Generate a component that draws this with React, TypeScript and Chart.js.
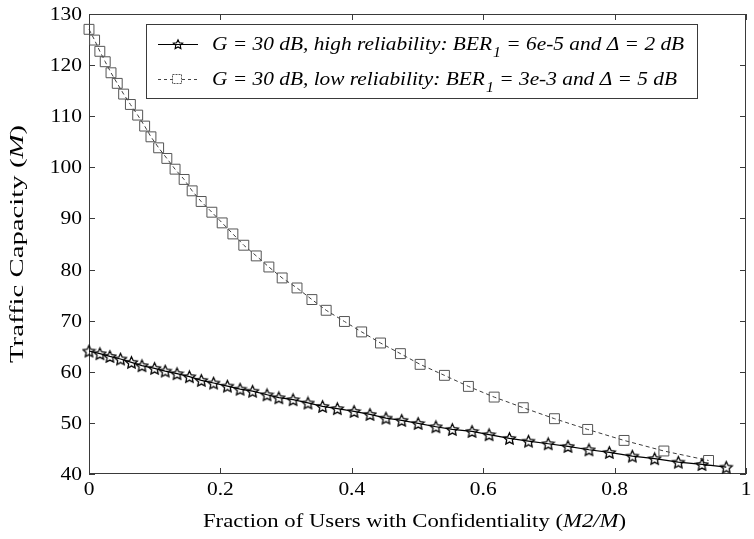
import React, { useEffect, useRef } from "react";
import { Chart, registerables } from "chart.js";

Chart.register(...registerables);

// ---- data ----
const highX = [
  0, 0.0166, 0.0318, 0.048, 0.0646, 0.0806, 0.0998, 0.116, 0.134, 0.1528,
  0.171, 0.1896, 0.2107, 0.23, 0.249, 0.271, 0.289, 0.3106, 0.3333, 0.3555,
  0.378, 0.4035, 0.4277, 0.452, 0.476, 0.501, 0.528, 0.553, 0.583, 0.609,
  0.64, 0.669, 0.699, 0.729, 0.761, 0.792, 0.827, 0.861, 0.897, 0.933, 0.97,
];
const highY = [
  64.06, 63.55, 63.0, 62.5, 61.85, 61.2, 60.67, 60.14, 59.63, 59.04,
  58.32, 57.8, 57.2, 56.6, 56.2, 55.5, 54.93, 54.54, 53.9, 53.23,
  52.8, 52.25, 51.66, 50.94, 50.5, 49.9, 49.25, 48.72, 48.33, 47.7,
  46.96, 46.43, 45.92, 45.4, 44.74, 44.22, 43.5, 43.0, 42.32, 41.87, 41.34,
];
const lowX = [
  0, 0.0085, 0.0165, 0.0247, 0.0335, 0.043, 0.0527, 0.063, 0.0741, 0.0847,
  0.0943, 0.106, 0.1185, 0.131, 0.1448, 0.157, 0.1707, 0.187, 0.2027, 0.219,
  0.2356, 0.2546, 0.2738, 0.294, 0.3166, 0.3393, 0.361, 0.3888, 0.415, 0.4437,
  0.474, 0.504, 0.541, 0.5775, 0.6167, 0.661, 0.7085, 0.759, 0.8144, 0.875, 0.943,
];
const lowY = [
  127.0, 124.9, 122.7, 120.66, 118.5, 116.43, 114.33, 112.3, 110.22, 108.07,
  105.97, 103.82, 101.74, 99.64, 97.63, 95.4, 93.32, 91.22, 89.13, 86.97,
  84.76, 82.67, 80.5, 78.36, 76.4, 74.13, 72.03, 69.84, 67.8, 65.63,
  63.55, 61.45, 59.3, 57.14, 55.05, 52.97, 50.82, 48.72, 46.57, 44.5, 42.65,
];
const xTicks = [0, 0.2, 0.4, 0.6, 0.8, 1];
const xTickLabels = ["0", "0.2", "0.4", "0.6", "0.8", "1"];
const yTicks = [40, 50, 60, 70, 80, 90, 100, 110, 120, 130];
const yTickLabels = ["40", "50", "60", "70", "80", "90", "100", "110", "120", "130"];
const legendRows = [
  { pre: "G = 30 dB, high reliability: BER", sub: "1", post: " = 6e-5 and \u0394 = 2 dB" },
  { pre: "G = 30 dB, low reliability: BER", sub: "1", post: " = 3e-3 and \u0394 = 5 dB" },
];
const xTitle = [
  { t: "Fraction of Users with Confidentiality (", it: false },
  { t: "M2/M", it: true },
  { t: ")", it: false },
];
const yTitle = [
  { t: "Traffic Capacity (", it: false },
  { t: "M", it: true },
  { t: ")", it: false },
];

const SERIF = "\"Liberation Serif\", \"Times New Roman\", serif";

function makeStar(size: number, lw: number, inner: number) {
  const c = document.createElement("canvas");
  c.width = size;
  c.height = size;
  const ctx = c.getContext("2d")!;
  const cx = size / 2;
  const cy = size / 2 + 0.6;
  const R = size / 2 - lw;
  const r = R * inner;
  ctx.beginPath();
  for (let i = 0; i < 10; i++) {
    const ang = -Math.PI / 2 + (i * Math.PI) / 5;
    const rad = i % 2 === 0 ? R : r;
    ctx.lineTo(cx + rad * Math.cos(ang), cy + rad * Math.sin(ang));
  }
  ctx.closePath();
  ctx.strokeStyle = "#000";
  ctx.lineWidth = lw;
  ctx.lineJoin = "miter";
  ctx.stroke();
  return c;
}

function segFont(it: boolean, size: number) {
  return `${it ? "italic " : ""}${size}px ${SERIF}`;
}

function drawSegs(
  ctx: CanvasRenderingContext2D,
  segs: { t: string; it: boolean }[],
  size: number,
  cx: number,
  cy: number,
  targetW: number
) {
  let total = 0;
  const ws = segs.map((s) => {
    ctx.font = segFont(s.it, size);
    const w = ctx.measureText(s.t).width;
    total += w;
    return w;
  });
  const sx = targetW / total;
  ctx.save();
  ctx.translate(cx - targetW / 2, cy);
  ctx.scale(sx, 1);
  ctx.textBaseline = "middle";
  ctx.textAlign = "left";
  let x = 0;
  segs.forEach((s, i) => {
    ctx.font = segFont(s.it, size);
    ctx.fillText(s.t, x, 0);
    x += ws[i];
  });
  ctx.restore();
}

const TICK_SX = 1.13;

export default function App() {
  const ref = useRef<HTMLCanvasElement | null>(null);

  useEffect(() => {
    const canvas = ref.current;
    if (!canvas) return;
    let chart: Chart | null = null;
    let cancelled = false;

    const build = () => {
      if (cancelled) return;
      const star = makeStar(15, 1.3, 0.48);
      const starSmall = makeStar(12, 1.1, 0.48);

      const framePlugin = {
        id: "frame",
        beforeDatasetsDraw(ch: any) {
          const { ctx, chartArea: a, scales } = ch;
          const xs = scales.x;
          const ys = scales.y;
          ctx.save();
          ctx.strokeStyle = "#3a3a3a";
          ctx.lineWidth = 1;
          ctx.strokeRect(a.left + 0.5, a.top + 0.5, a.right - a.left - 1, a.bottom - a.top - 1);
          ctx.beginPath();
          xTicks.forEach((v) => {
            const px = Math.round(xs.getPixelForValue(v)) + 0.5;
            ctx.moveTo(px, a.bottom);
            ctx.lineTo(px, a.bottom - 6);
            ctx.moveTo(px, a.top);
            ctx.lineTo(px, a.top + 6);
          });
          yTicks.forEach((v) => {
            const py = Math.round(ys.getPixelForValue(v)) + 0.5;
            ctx.moveTo(a.left, py);
            ctx.lineTo(a.left + 6, py);
            ctx.moveTo(a.right, py);
            ctx.lineTo(a.right - 6, py);
          });
          ctx.stroke();

          // tick labels
          ctx.fillStyle = "#000";
          ctx.font = `19px ${SERIF}`;
          ctx.textBaseline = "middle";
          xTicks.forEach((v, i) => {
            const px = xs.getPixelForValue(v);
            ctx.save();
            ctx.translate(px, a.bottom + 16);
            ctx.scale(TICK_SX, 1);
            ctx.textAlign = "center";
            ctx.fillText(xTickLabels[i], 0, 0);
            ctx.restore();
          });
          yTicks.forEach((v, i) => {
            const py = ys.getPixelForValue(v);
            ctx.save();
            ctx.translate(a.left - 7, py + 1);
            ctx.scale(TICK_SX, 1);
            ctx.textAlign = "right";
            ctx.fillText(yTickLabels[i], 0, 0);
            ctx.restore();
          });

          // axis titles
          drawSegs(ctx, xTitle, 19, (a.left + a.right) / 2 - 3, 522, 423);
          ctx.save();
          ctx.translate(18, 244);
          ctx.rotate(-Math.PI / 2);
          drawSegs(ctx, yTitle, 19, 0, 0, 238);
          ctx.restore();
          ctx.restore();
        },
        afterDraw(ch: any) {
          const { ctx } = ch;
          ctx.save();
          // legend box
          const L = 146, T = 24, R = 697, B = 98;
          ctx.fillStyle = "#fff";
          ctx.fillRect(L, T, R - L, B - T);
          ctx.strokeStyle = "#3a3a3a";
          ctx.lineWidth = 1;
          ctx.strokeRect(L + 0.5, T + 0.5, R - L, B - T);
          const rowsY = [44, 79];
          // row 1 sample
          ctx.strokeStyle = "#000";
          ctx.beginPath();
          ctx.moveTo(158, rowsY[0] + 0.5);
          ctx.lineTo(198, rowsY[0] + 0.5);
          ctx.stroke();
          ctx.drawImage(starSmall, 178 - starSmall.width / 2, rowsY[0] - starSmall.height / 2);
          // row 2 sample
          ctx.strokeStyle = "#444";
          ctx.setLineDash([3, 3]);
          ctx.beginPath();
          ctx.moveTo(158, rowsY[1] + 0.5);
          ctx.lineTo(198, rowsY[1] + 0.5);
          ctx.stroke();
          ctx.setLineDash([2, 1]);
          ctx.fillStyle = "#fff";
          ctx.fillRect(172, rowsY[1] - 5, 10, 10);
          ctx.strokeStyle = "#555";
          ctx.strokeRect(172.5, rowsY[1] - 4.5, 9, 9);
          ctx.setLineDash([]);

          // legend text
          const size = 19;
          const subSize = 14;
          const widths = legendRows.map((r) => {
            ctx.font = segFont(true, size);
            const a = ctx.measureText(r.pre).width;
            const c = ctx.measureText(r.post).width;
            ctx.font = segFont(true, subSize);
            const b = ctx.measureText(r.sub).width;
            return [a, b, c];
          });
          const sx = 471 / (widths[0][0] + widths[0][1] + widths[0][2]);
          ctx.fillStyle = "#000";
          ctx.textBaseline = "alphabetic";
          ctx.textAlign = "left";
          legendRows.forEach((r, i) => {
            const [a, b] = widths[i];
            const base = rowsY[i] + 6;
            ctx.save();
            ctx.translate(212, base);
            ctx.scale(sx, 1);
            ctx.font = segFont(true, size);
            ctx.fillText(r.pre, 0, 0);
            ctx.font = segFont(true, subSize);
            ctx.fillText(r.sub, a + 1, 7);
            ctx.font = segFont(true, size);
            ctx.fillText(r.post, a + b + 1, 0);
            ctx.restore();
          });
          ctx.restore();
        },
      };

      chart = new Chart(canvas, {
        type: "line",
        data: {
          datasets: [
            {
              label: "high",
              data: highX.map((x, i) => ({ x, y: highY[i] })),
              borderColor: "#000",
              borderWidth: 1.2,
              pointStyle: star as any,
              pointRadius: 6,
              pointBorderColor: "#000",
              pointBackgroundColor: "rgba(0,0,0,0)",
              tension: 0,
              clip: false as any,
            },
            {
              label: "low",
              data: lowX.map((x, i) => ({ x, y: lowY[i] })),
              borderColor: "#3c3c3c",
              borderWidth: 1,
              borderDash: [4, 3],
              pointStyle: "rect",
              pointRadius: 7,
              pointBorderColor: "#555",
              pointBorderWidth: 1,
              pointBackgroundColor: "rgba(0,0,0,0)",
              tension: 0,
              clip: false as any,
            },
          ],
        },
        options: {
          animation: false,
          responsive: true,
          maintainAspectRatio: false,
          layout: { padding: { left: 0, top: 14, right: 3, bottom: 0 } },
          plugins: { legend: { display: false }, tooltip: { enabled: false } },
          events: [],
          scales: {
            x: {
              type: "linear",
              min: 0,
              max: 1,
              grid: { display: false, drawTicks: false },
              border: { display: false },
              ticks: { display: false, stepSize: 0.2 },
              afterFit: (s: any) => {
                s.height = 65;
              },
            },
            y: {
              type: "linear",
              min: 40,
              max: 130,
              grid: { display: false, drawTicks: false },
              border: { display: false },
              ticks: { display: false, stepSize: 10 },
              afterFit: (s: any) => {
                s.width = 89;
              },
            },
          },
        },
        plugins: [framePlugin],
      });
    };

    const fonts: any = (document as any).fonts;
    if (fonts && fonts.load) {
      Promise.all([
        fonts.load(`19px "Liberation Serif"`),
        fonts.load(`italic 19px "Liberation Serif"`),
      ])
        .catch(() => null)
        .then(build);
    } else {
      build();
    }

    return () => {
      cancelled = true;
      if (chart) chart.destroy();
    };
  }, []);

  return (
    <div
      style={{
        position: "absolute",
        left: 0,
        top: 0,
        width: 754,
        height: 539,
        background: "#fff",
      }}
    >
      <canvas ref={ref} />
    </div>
  );
}
